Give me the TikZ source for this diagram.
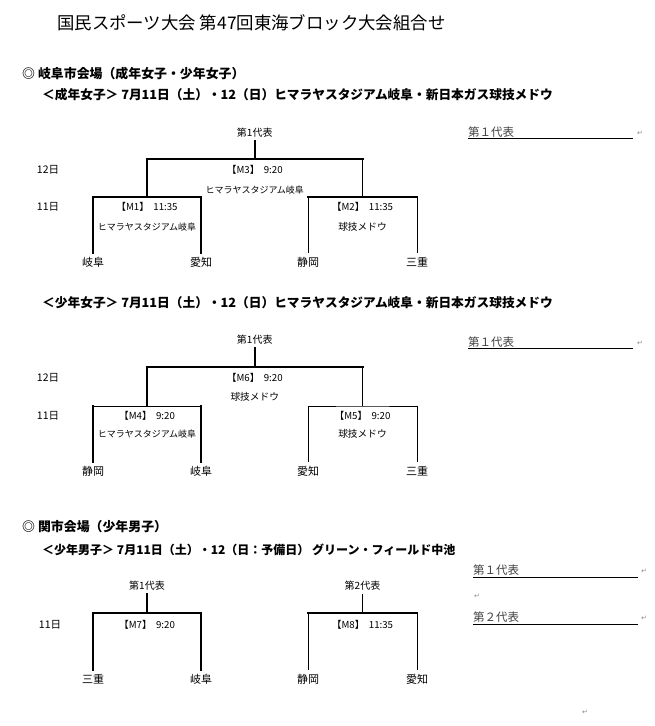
\documentclass[tikz,border=0pt]{standalone}
\usepackage{fontspec}
\newfontfamily\jp{Noto Sans CJK JP}
\newfontfamily\sym{DejaVu Sans}
\newcommand{\fsz}[1]{\fontsize{#1}{#1}\selectfont}

\begin{document}
\begin{tikzpicture}[x=1pt,y=-1pt,
  win/.style={line width=2pt, line cap=rect},
  lose/.style={line width=0.9pt},
  uline/.style={line width=1pt},
  maintitle/.style={font=\jp\fsz{17.4}, anchor=west, inner sep=0pt},
  venuehead/.style={font=\jp\bfseries\fsz{12.9}, anchor=west, inner sep=0pt},
  subhead/.style={font=\jp\bfseries\fsz{12.7}, anchor=west, inner sep=0pt},
  team/.style={font=\jp\fsz{11}, inner xsep=0pt, inner ysep=4pt, anchor=north},
  rep/.style={font=\jp\fsz{10}, inner xsep=0pt, inner ysep=3pt, anchor=south},
  match/.style={font=\jp\fsz{9.7}, inner sep=0pt},
  place/.style={font=\jp\fsz{9}, inner sep=0pt},
  day/.style={font=\jp\fsz{10.5}, inner sep=0pt},
  memo/.style={font=\jp\fsz{11.5}, text=black!75, anchor=west, inner sep=0pt},
  pmark/.style={font=\sym\fsz{7}, text=black!45, inner sep=0pt}]
\useasboundingbox (0,0) rectangle (655,726);

\node[maintitle] (title) at (57,23) {国民スポーツ大会 第47回東海ブロック大会組合せ};

% Gifu venue
\node[venuehead] (gifuvenue) at (22,74) {◎ 岐阜市会場（成年女子・少年女子）};
\node[subhead] (subA) at (42,95) {＜成年女子＞ 7月11日（土）・12（日）ヒマラヤスタジアム岐阜・新日本ガス球技メドウ};

\coordinate (m1) at (147,197);
\coordinate (m2) at (362.5,197);
\coordinate (m3) at (254.75,159);
\node[team] (a1) at (93,253) {岐阜};
\node[team] (a2) at (201,253) {愛知};
\node[team] (a3) at (308,253) {静岡};
\node[team] (a4) at (417,253) {三重};
\node[rep] (repA) at (254.75,141) {第1代表};
\draw[win] (a1.north) |- (m1) -| (a2.north);
\draw[lose] (a3.north) -- (a3.north |- m2);
\draw[win] (a3.north |- m2) -- (a4.north |- m2);
\draw[lose] (a4.north |- m2) -- (a4.north);
\draw[win] (m1) |- (m3) -- (m3 -| m2);
\draw[lose] (m3 -| m2) -- (m2);
\draw[win] (m3) -- (repA.south);
\node[day] (dayA12) at (48,170) {12日};
\node[day] (dayA11) at (48,207) {11日};
\node[match] (mA3) at (254.75,170) {【M3】\ \ 9:20};
\node[place] (pA3) at (254.75,190) {ヒマラヤスタジアム岐阜};
\node[match] (mA1) at (147,207) {【M1】\ \ 11:35};
\node[place] (pA1) at (147,227) {ヒマラヤスタジアム岐阜};
\node[match] (mA2) at (362.5,207) {【M2】\ \ 11:35};
\node[match] (pA2) at (362.5,227) {球技メドウ};
\node[memo] (noteA) at (468,132) {第１代表};
\coordinate (ulA) at (633,138);
\draw[uline] (noteA.west |- ulA) -- (ulA);
\node[pmark] (retA) at (640,133) {↵};

\node[subhead] (subB) at (42,303) {＜少年女子＞ 7月11日（土）・12（日）ヒマラヤスタジアム岐阜・新日本ガス球技メドウ};

\coordinate (m4) at (147,406);
\coordinate (m5) at (362.5,406);
\coordinate (m6) at (254.75,367);
\node[team] (b1) at (93,462) {静岡};
\node[team] (b2) at (201,462) {岐阜};
\node[team] (b3) at (308,462) {愛知};
\node[team] (b4) at (417,462) {三重};
\node[rep] (repB) at (254.75,348) {第1代表};
\draw[win] (b1.north) -- (b1.north |- m4);
\draw[lose] (b1.north |- m4) -- (b2.north |- m4);
\draw[win] (b2.north |- m4) -- (b2.north);
\draw[lose] (b3.north) |- (m5) -| (b4.north);
\draw[win] (m4) |- (m6) -- (m6 -| m5);
\draw[lose] (m6 -| m5) -- (m5);
\draw[win] (m6) -- (repB.south);
\node[day] (dayB12) at (48,378) {12日};
\node[day] (dayB11) at (48,416) {11日};
\node[match] (mB6) at (254.75,378) {【M6】\ \ 9:20};
\node[match] (pB6) at (254.75,397) {球技メドウ};
\node[match] (mB4) at (147,416) {【M4】\ \ 9:20};
\node[place] (pB4) at (147,434) {ヒマラヤスタジアム岐阜};
\node[match] (mB5) at (362.5,416) {【M5】\ \ 9:20};
\node[match] (pB5) at (362.5,434) {球技メドウ};
\node[memo] (noteB) at (468,342) {第１代表};
\coordinate (ulB) at (633,348);
\draw[uline] (noteB.west |- ulB) -- (ulB);
\node[pmark] (retB) at (640,343) {↵};

% Seki venue
\node[venuehead] (sekivenue) at (22,527) {◎ 関市会場（少年男子）};
\node[subhead, font=\jp\bfseries\fsz{12}] (subC) at (42,550) {＜少年男子＞ 7月11日（土）・12（日：予備日） グリーン・フィールド中池};

\coordinate (m7) at (147,613);
\coordinate (m8) at (362.5,613);
\node[team] (c1) at (93,670) {三重};
\node[team] (c2) at (201,670) {岐阜};
\node[team] (c3) at (308,670) {静岡};
\node[team] (c4) at (417,670) {愛知};
\node[rep] (repC1) at (147,594) {第1代表};
\node[rep] (repC2) at (362.5,594) {第2代表};
\draw[win] (c1.north) |- (m7) -| (c2.north);
\draw[lose] (c3.north) -- (c3.north |- m8);
\draw[win] (c3.north |- m8) -- (c4.north |- m8);
\draw[lose] (c4.north |- m8) -- (c4.north);
\draw[win] (m7) -- (repC1.south);
\draw[lose] (m8) -- (repC2.south);
\node[day] (dayC11) at (50,625) {11日};
\node[match] (mC7) at (147,625) {【M7】\ \ 9:20};
\node[match] (mC8) at (362.5,625) {【M8】\ \ 11:35};
\node[memo] (noteC1) at (473,570) {第１代表};
\coordinate (ulC1) at (638,577);
\draw[uline] (noteC1.west |- ulC1) -- (ulC1);
\node[pmark] (retC1) at (644,571) {↵};
\node[pmark] (retC0) at (477,596) {↵};
\node[memo] (noteC2) at (473,617) {第２代表};
\coordinate (ulC2) at (638,624);
\draw[uline] (noteC2.west |- ulC2) -- (ulC2);
\node[pmark] (retC2) at (644,618) {↵};
\node[pmark] (retEnd) at (585,712) {↵};
\end{tikzpicture}
\end{document}
